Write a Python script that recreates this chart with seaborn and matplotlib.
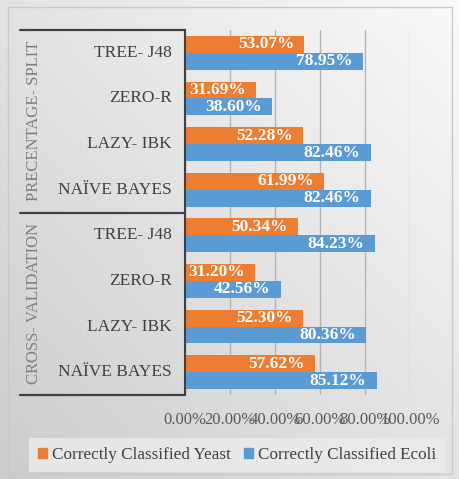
import numpy as np
import pandas as pd
import matplotlib
matplotlib.use("Agg")
import matplotlib.pyplot as plt
import seaborn as sns
from matplotlib.patches import Rectangle
from matplotlib.lines import Line2D

# ---- data ----
groups = ["PRECENTAGE- SPLIT", "CROSS- VALIDATION"]
classifiers = ["TREE- J48", "ZERO-R", "LAZY- IBK", "NAÏVE BAYES"]
yeast = [53.07, 31.69, 52.28, 61.99, 50.34, 31.20, 52.30, 57.62]
ecoli = [78.95, 38.60, 82.46, 82.46, 84.23, 42.56, 80.36, 85.12]
series = ["Correctly Classified Yeast", "Correctly Classified Ecoli"]
tick_values = [0, 20, 40, 60, 80, 100]
tick_labels = ["0.00%", "20.00%", "40.00%", "60.00%", "80.00%", "100.00%"]
colors = ["#ED7D31", "#5B9BD5"]

sns.set_style("white")
plt.rcParams["font.family"] = ["Liberation Serif", "DejaVu Serif"]

keys = [f"{g}|{c}" for g in groups for c in classifiers]
df = pd.DataFrame({
    "key": keys * 2,
    "value": yeast + ecoli,
    "series": [series[0]] * len(keys) + [series[1]] * len(keys),
})

W, H = 460, 479
fig = plt.figure(figsize=(W / 100, H / 100), dpi=100)

# background gradient
bg = fig.add_axes([0, 0, 1, 1], zorder=0)
yy, xx = np.mgrid[0:1:240j, 0:1:240j]
t = (xx + (1 - yy)) / 2
g = 0.80 + 0.18 * t
bg.imshow(np.dstack([g, g, g]), extent=[0, 1, 0, 1], aspect="auto", origin="upper")
bg.set_xlim(0, 1); bg.set_ylim(0, 1)
bg.axis("off")
bg.add_patch(Rectangle((8 / W, 1 - 474 / H), 444 / W, 467 / H, fill=False,
                       edgecolor="#c8c8c8", lw=1.0))

def fx(px):
    return px / W

def fy(py):
    return 1 - py / H

x0, x1, y0, y1 = 185, 410, 30, 395
ax = fig.add_axes([fx(x0), fy(y1), fx(x1) - fx(x0), fy(y0) - fy(y1)], zorder=2)
ax.set_facecolor("none")

sns.barplot(data=df, y="key", x="value", hue="series", palette=colors,
            orient="h", width=0.74, saturation=1, ax=ax, legend=False,
            linewidth=0)

ax.set_xlim(0, 100)
ax.set_ylim(len(keys) - 0.5, -0.5)
ax.set_xlabel(""); ax.set_ylabel("")
ax.set_xticks(tick_values)
ax.set_xticklabels(tick_labels, fontsize=12, color="#595959")
ax.set_yticks([])
ax.tick_params(axis="x", length=0, pad=12)
ax.xaxis.grid(True, color="#b4b4b4", lw=1)
ax.set_axisbelow(True)
for s in ["top", "right", "bottom"]:
    ax.spines[s].set_visible(False)
ax.spines["left"].set_color("#404040")
ax.spines["left"].set_linewidth(1.5)

# value labels inside bar ends
for cont in ax.containers:
    for bar in cont:
        w = bar.get_width()
        yc = bar.get_y() + bar.get_height() / 2
        ax.text(w - 4.5, yc, f"{w:.2f}%", ha="right", va="center",
                color="white", fontsize=12.5, fontweight="bold")

# category labels
ytr = ax.get_yaxis_transform()
for i, k in enumerate(keys):
    ax.text(-13 / (x1 - x0), i, k.split("|")[1], transform=ytr, ha="right",
            va="center", fontsize=12.5, color="#404040", clip_on=False)

# table lines
for py in [30, 213, 395]:
    fig.add_artist(Line2D([fx(20), fx(185)], [fy(py), fy(py)], color="#404040",
                          lw=1.6, zorder=3))

# group labels
fig.text(fx(34), fy(121), groups[0], rotation=90, ha="center", va="center",
         fontsize=12, color="#7f7f7f")
fig.text(fx(34), fy(304), groups[1], rotation=90, ha="center", va="center",
         fontsize=12, color="#7f7f7f")

handles = [Rectangle((0, 0), 1, 1, color=c) for c in colors]
leg = fig.legend(handles, series, loc="center", bbox_to_anchor=(fx(237), fy(455)),
                 ncol=2, frameon=True, fontsize=12.3, handlelength=0.5,
                 handleheight=0.5, handletextpad=0.3, columnspacing=0.8,
                 borderpad=0.5, fancybox=False)
leg.get_frame().set_facecolor("#ececec")
leg.get_frame().set_edgecolor("none")
for txt in leg.get_texts():
    txt.set_color("#404040")

fig.savefig("out.png", dpi=100)
